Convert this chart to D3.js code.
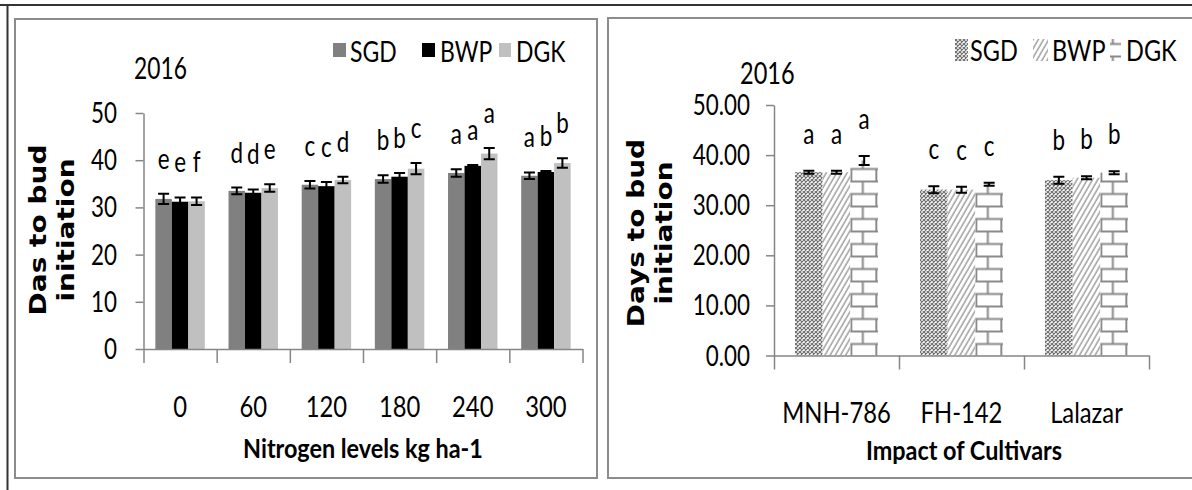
<!DOCTYPE html>
<html>
<head>
<meta charset="utf-8">
<script src="https://cdn.jsdelivr.net/npm/d3@7"></script>
<style>
  html, body { margin: 0; padding: 0; background: #fff; }
  svg { display: block; }
  text { font-family: Lato, "Open Sans", sans-serif; fill: #000; }
  .ytitle { font-family: "DejaVu Sans", sans-serif; font-weight: bold; }
  .xtitle { font-weight: bold; }
</style>
</head>
<body>
<svg id="chart" width="1192" height="490"></svg>
<script>
var locations = ["SGD", "BWP", "DGK"]

// left panel: nitrogen levels
var nitrogenLevels = ["0", "60", "120", "180", "240", "300"]
var sgdNitrogen = [31.8, 33.5, 34.8, 36.0, 37.3, 36.7]
var bwpNitrogen = [31.2, 33.1, 34.5, 36.5, 38.8, 37.5]
var dgkNitrogen = [31.3, 34.1, 35.8, 38.2, 41.4, 39.4]
var sgdNitrogenErr = [1.1, 0.7, 0.8, 0.8, 0.8, 0.7]
var bwpNitrogenErr = [0.9, 0.7, 0.9, 0.8, 0.2, 0.2]
var dgkNitrogenErr = [0.8, 0.8, 0.7, 1.2, 1.2, 1.0]
var sgdNitrogenLetters = ["e", "d", "c", "b", "a", "a"]
var bwpNitrogenLetters = ["e", "d", "c", "b", "a", "b"]
var dgkNitrogenLetters = ["f", "e", "d", "c", "a", "b"]
var nitrogenTicks = [0, 10, 20, 30, 40, 50]

// right panel: cultivars
var cultivars = ["MNH-786", "FH-142", "Lalazar"]
var sgdCultivar = [36.6, 33.1, 35.0]
var bwpCultivar = [36.6, 33.1, 35.5]
var dgkCultivar = [38.9, 34.2, 36.5]
var sgdCultivarErr = [0.3, 0.7, 0.7]
var bwpCultivarErr = [0.3, 0.6, 0.3]
var dgkCultivarErr = [0.9, 0.3, 0.3]
var sgdCultivarLetters = ["a", "c", "b"]
var bwpCultivarLetters = ["a", "c", "b"]
var dgkCultivarLetters = ["a", "c", "b"]
var cultivarTicks = [0, 10, 20, 30, 40, 50]

var svg = d3.select("#chart")
var defs = svg.append("defs")
var axisColor = "#868686"

// squeezed text, the picture is narrower than the font
function addText(g, str, x, y, size, sx, anchor) {
  return g.append("text")
    .attr("transform", "translate(" + x + "," + y + ") scale(" + sx + ",1)")
    .attr("text-anchor", anchor || "start")
    .style("font-size", size + "px")
    .text(str)
}

function yTitle(g, lines, xs, cy) {
  lines.forEach(function (t, i) {
    g.append("text")
      .attr("class", "ytitle")
      .attr("transform", "translate(" + xs[i] + "," + cy + ") scale(0.8,1) rotate(-90)")
      .attr("text-anchor", "middle")
      .style("font-size", "28px")
      .text(t)
  })
}

function drawPanel(o) {
  var g = svg.append("g")
  var n = o.cats.length
  var y = d3.scaleLinear().domain([0, 50]).range(o.yRange)
  var x0 = d3.scaleBand().domain(o.cats).range(o.xRange).paddingInner(o.pad).paddingOuter(o.pad / 2)
  var x1 = d3.scaleBand().domain(locations).range([0, x0.bandwidth()])
  var xb = d3.scaleLinear().domain([0, n]).range(o.xRange)

  if (o.before) o.before(x0, x1, y)

  // bars
  locations.forEach(function (loc, si) {
    g.selectAll(".bar" + si).data(o.series[si]).join("rect")
      .attr("x", function (d, i) { return x0(o.cats[i]) + x1(loc) })
      .attr("y", function (d) { return y(d) })
      .attr("width", x1.bandwidth())
      .attr("height", function (d) { return y(0) - y(d) })
      .attr("fill", o.fills[si])
  })

  // axes
  var ya = g.append("g")
    .attr("transform", "translate(" + o.xRange[0] + ",0)")
    .call(d3.axisLeft(y).tickValues(o.yTicks).tickSize(8).tickSizeOuter(0))
  ya.selectAll(".tick text").remove()

  g.append("g")
    .attr("transform", "translate(0," + y(0) + ")")
    .call(d3.axisBottom(xb).tickValues(d3.range(n + 1)).tickSize(14).tickSizeOuter(0).tickFormat(""))
  g.selectAll(".domain, .tick line").attr("stroke", axisColor).attr("stroke-width", 1.5)

  // error bars and letters
  var c = o.capW / 2
  locations.forEach(function (loc, si) {
    o.series[si].forEach(function (v, i) {
      var cx = x0(o.cats[i]) + x1(loc) + x1.bandwidth() / 2
      var e = o.errs[si][i]
      var top = y(v + e), bot = y(v - e)
      g.append("path")
        .attr("d", "M" + (cx - c) + "," + top + "H" + (cx + c) + "M" + cx + "," + top + "V" + bot +
          "M" + (cx - c) + "," + bot + "H" + (cx + c))
        .attr("stroke", "#000").attr("stroke-width", 2).attr("fill", "none")
      addText(g, o.letters[si][i], cx, top - o.letterOff, 28, 0.8, "middle")
    })
  })

  // tick labels
  o.yTicks.forEach(function (t) {
    addText(g, o.fmt(t), o.labRight, y(t) + 10, 28, o.tickSx, "end")
  })
  o.cats.forEach(function (cat) {
    addText(g, cat, x0(cat) + x0.bandwidth() / 2, o.catY, 28, 0.85, "middle")
  })
  return g
}

// frames
svg.append("line").attr("x1", 0).attr("x2", 1192).attr("y1", 5).attr("y2", 5)
  .attr("stroke", "#333").attr("stroke-width", 2)
svg.append("line").attr("x1", 7.5).attr("x2", 7.5).attr("y1", 5).attr("y2", 490)
  .attr("stroke", "#333").attr("stroke-width", 2)
svg.append("rect").attr("x", 15).attr("y", 19).attr("width", 582).attr("height", 459)
  .attr("fill", "none").attr("stroke", "#8c8c8c").attr("stroke-width", 2)
svg.append("rect").attr("x", 608).attr("y", 18).attr("width", 600).attr("height", 460)
  .attr("fill", "none").attr("stroke", "#8c8c8c").attr("stroke-width", 2)

// patterns for right panel
var pSgd = defs.append("pattern").attr("id", "pSGD")
  .attr("patternUnits", "userSpaceOnUse").attr("width", 4).attr("height", 4)
pSgd.append("rect").attr("width", 4).attr("height", 4).attr("fill", "#fff")
pSgd.append("path").attr("d", "M0,0L4,4M4,0L0,4").attr("stroke", "#707070").attr("stroke-width", 1.2)

var pBwp = defs.append("pattern").attr("id", "pBWP")
  .attr("patternUnits", "userSpaceOnUse").attr("width", 4.5).attr("height", 4.5)
  .attr("patternTransform", "rotate(30)")
pBwp.append("rect").attr("width", 4.5).attr("height", 4.5).attr("fill", "#fff")
pBwp.append("line").attr("x1", 1).attr("x2", 1).attr("y1", 0).attr("y2", 4.5)
  .attr("stroke", "#8a8a8a").attr("stroke-width", 1.2)

var pDgk = defs.append("pattern").attr("id", "pDGK")
  .attr("patternUnits", "userSpaceOnUse").attr("width", 25).attr("height", 25)
pDgk.append("rect").attr("width", 25).attr("height", 25).attr("fill", "#fff")
pDgk.append("path").attr("d", "M0,1H25M0,13.5H25M12.5,1V13.5M1,13.5V25")
  .attr("stroke", "#8a8a8a").attr("stroke-width", 2).attr("fill", "none")

// left panel
var left = drawPanel({
  cats: nitrogenLevels,
  series: [sgdNitrogen, bwpNitrogen, dgkNitrogen],
  errs: [sgdNitrogenErr, bwpNitrogenErr, dgkNitrogenErr],
  letters: [sgdNitrogenLetters, bwpNitrogenLetters, dgkNitrogenLetters],
  yTicks: nitrogenTicks,
  fmt: d3.format("d"),
  xRange: [143.5, 582.5],
  yRange: [349, 113],
  pad: 0.324,
  fills: ["#808080", "#000000", "#c0c0c0"],
  capW: 11,
  letterOff: 25,
  labRight: 117,
  tickSx: 0.8,
  catY: 417
})
addText(left, "2016", 134, 79, 30, 0.76)
addText(left, "Nitrogen levels kg ha-1", 363, 458, 26, 0.9, "middle").attr("class", "xtitle")
yTitle(left, ["Das to bud", "initiation"], [46, 74], 230)
var legL = [{ x: 333, w: 13, tx: 350 }, { x: 422, w: 13, tx: 440 }, { x: 499, w: 12, tx: 516 }]
locations.forEach(function (loc, i) {
  left.append("rect").attr("x", legL[i].x).attr("y", 43).attr("width", legL[i].w).attr("height", 14)
    .attr("fill", ["#808080", "#000000", "#c0c0c0"][i])
  addText(left, loc, legL[i].tx, 62, 28, 0.82)
})

// right panel
var right = drawPanel({
  cats: cultivars,
  series: [sgdCultivar, bwpCultivar, dgkCultivar],
  errs: [sgdCultivarErr, bwpCultivarErr, dgkCultivarErr],
  letters: [sgdCultivarLetters, bwpCultivarLetters, dgkCultivarLetters],
  yTicks: cultivarTicks,
  fmt: d3.format(".2f"),
  xRange: [774, 1149],
  yRange: [355.5, 105],
  pad: 0.336,
  fills: ["url(#pSGD)", "url(#pBWP)", "url(#pDGK)"],
  capW: 11,
  letterOff: 27,
  labRight: 750,
  tickSx: 0.8,
  catY: 423,
  before: function (x0, x1, y) {
    // line the bricks up with the first DGK bar
    pDgk.attr("patternTransform", "translate(" + (x0(cultivars[0]) + x1("DGK")) + "," + y(0) + ")")
  }
})
addText(right, "2016", 740, 84, 31, 0.76)
addText(right, "Impact of Cultivars", 964, 460, 26, 0.9, "middle").attr("class", "xtitle")
yTitle(right, ["Days to bud", "initiation"], [644, 672], 233)
var legR = [{ x: 955, w: 13, tx: 970 }, { x: 1033, w: 15, tx: 1052 }, { x: 1110, w: 11, tx: 1126 }]
locations.forEach(function (loc, i) {
  right.append("rect").attr("x", legR[i].x).attr("y", 39).attr("width", legR[i].w).attr("height", 22)
    .attr("fill", ["url(#pSGD)", "url(#pBWP)", "url(#pDGK)"][i])
  addText(right, loc, legR[i].tx, 61, 28, 0.84)
})
</script>
</body>
</html>
